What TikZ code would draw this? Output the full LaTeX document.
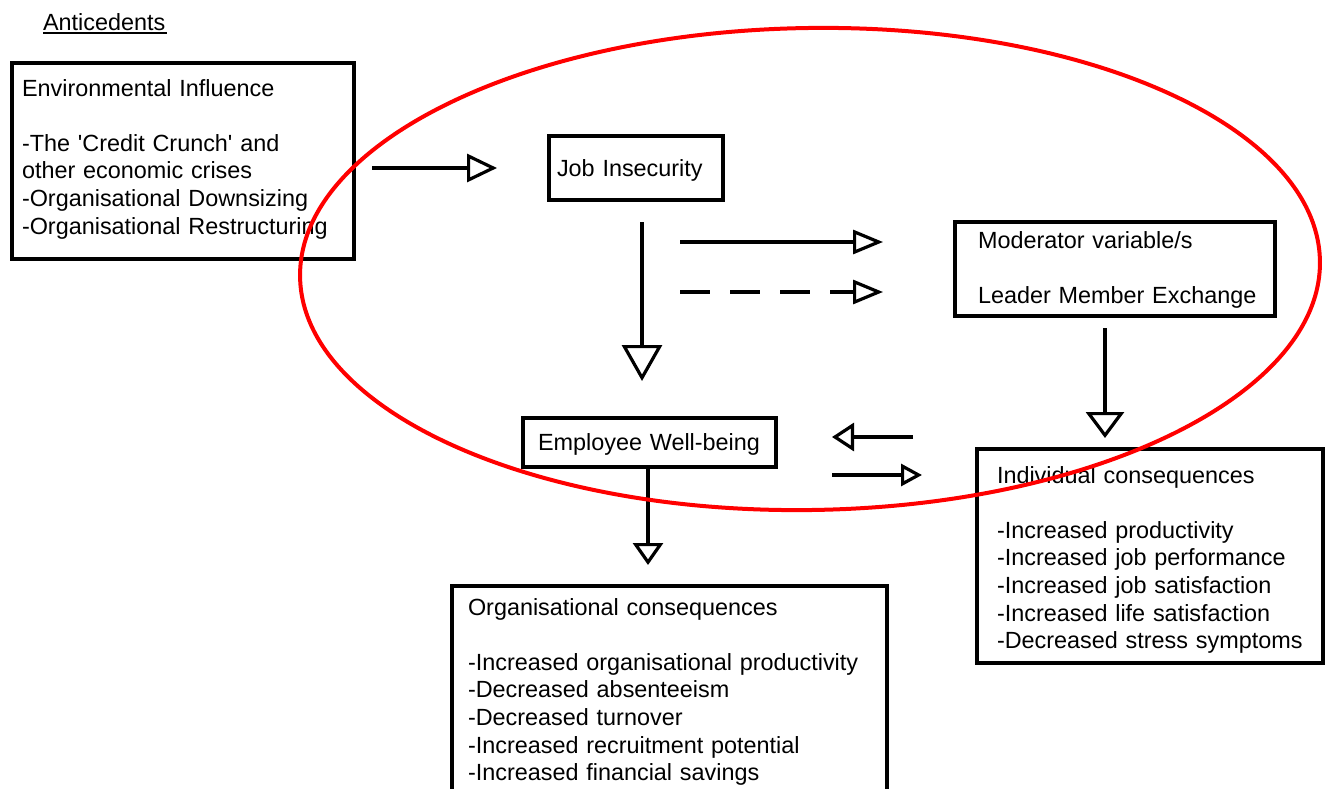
\documentclass[tikz,border=0pt]{standalone}
\usepackage{fontspec}
\setmainfont{Liberation Sans}
\usetikzlibrary{arrows.meta}
\newcommand{\sq}{\XeTeXglyph\XeTeXcharglyph"27\relax}
\tikzset{
  box/.style={draw=black, line width=4pt, rectangle, inner sep=0pt, outer sep=0pt, anchor=north west},
  txt/.style={anchor=north west, inner sep=0pt, outer sep=0pt, align=left, text width=430pt,
              font=\fontsize{23.4}{27.6}\selectfont},
  conn/.style={draw=black, line width=3.2pt},
}
\begin{document}
\begin{tikzpicture}[x=1pt, y=-1pt]
\useasboundingbox (0,0) rectangle (1325,789);
% boxes
\node[box, minimum width=342pt, minimum height=196pt] (env) at (12,63) {};
\node[box, minimum width=174pt, minimum height=64pt] (job) at (549,136) {};
\node[box, minimum width=320pt, minimum height=94pt] (mod) at (955,222) {};
\node[box, minimum width=253pt, minimum height=49pt] (emp) at (523,418) {};
\node[box, minimum width=346pt, minimum height=214pt] (ind) at (977,449) {};
\node[box, minimum width=435pt, minimum height=214pt] (org) at (452,586) {};
% texts
\node[txt] (ant) at (43,10.7) {\strut Anticedents};
\draw[line width=1.6pt] ([yshift=-3pt]ant.base west) -- ([xshift=-306pt,yshift=-3pt]ant.base east);
\node[txt] (envt) at ([xshift=10pt,yshift=-13.7pt]env.north west)
  {\strut Environmental Influence\\[27.6pt]
   -The \sq Credit Crunch\sq{} and\\
   other economic crises\\
   -Organisational Downsizing\\
   -Organisational Restructuring};
\node[txt] (jobt) at ([xshift=8pt,yshift=-20.7pt]job.north west) {\strut Job Insecurity};
\node[txt] (modt) at ([xshift=23pt,yshift=-6.7pt]mod.north west)
  {\strut Moderator variable/s\\[27.6pt]
   Leader Member Exchange};
\node[txt] (empt) at ([xshift=15pt,yshift=-12.7pt]emp.north west) {\strut Employee Well-being};
\node[txt] (indt) at ([xshift=20pt,yshift=-14.7pt]ind.north west)
  {\strut Individual consequences\\[27.6pt]
   -Increased productivity\\
   -Increased job performance\\
   -Increased job satisfaction\\
   -Increased life satisfaction\\
   -Decreased stress symptoms};
\node[txt] (orgt) at ([xshift=16pt,yshift=-9.7pt]org.north west)
  {\strut Organisational consequences\\[27.6pt]
   -Increased organisational productivity\\
   -Decreased absenteeism\\
   -Decreased turnover\\
   -Increased recruitment potential\\
   -Increased financial savings};
% connectors
\draw[conn, -{Triangle[open, length=30pt, width=28pt]}]
  ([xshift=18pt]env.east |- job.west) -- ([xshift=-52pt]job.west);
\draw[conn, -{Triangle[open, length=36pt, width=40pt]}]
  ([xshift=6pt,yshift=-22pt]job.south) -- ([xshift=-7.5pt,yshift=37pt]emp.north);
\draw[conn, -{Triangle[open, length=30pt, width=24pt]}]
  ([xshift=-43pt,yshift=-42pt]job.south east) -- ([xshift=-72pt,yshift=27pt]mod.west);
\draw[conn, dash pattern=on 30pt off 20pt, -{Triangle[open, length=30pt, width=24pt]}]
  ([xshift=-43pt,yshift=-92pt]job.south east) -- ([xshift=-72pt,yshift=-23pt]mod.west);
\draw[conn, -{Triangle[open, length=26pt, width=38pt]}]
  ([xshift=-10pt,yshift=-12pt]mod.south) -- ([xshift=-45pt,yshift=11pt]ind.north);
\draw[conn, -{Triangle[open, length=22pt, width=28pt]}]
  ([xshift=-64pt,yshift=119pt]ind.west) -- ([xshift=56pt,yshift=5.5pt]emp.east);
\draw[conn, -{Triangle[open, length=21pt, width=22pt]}]
  ([xshift=56pt,yshift=-32.5pt]emp.east) -- ([xshift=-55pt,yshift=81pt]ind.west);
\draw[conn, -{Triangle[open, length=22pt, width=30pt]}]
  ([xshift=-1.5pt]emp.south) -- ([xshift=-21.5pt,yshift=21pt]org.north);
% red ellipse
\draw[red, line width=4pt, rotate around={0.9:(810,269)}] (810,269) ellipse [x radius=510pt, y radius=241pt];
\end{tikzpicture}
\end{document}
